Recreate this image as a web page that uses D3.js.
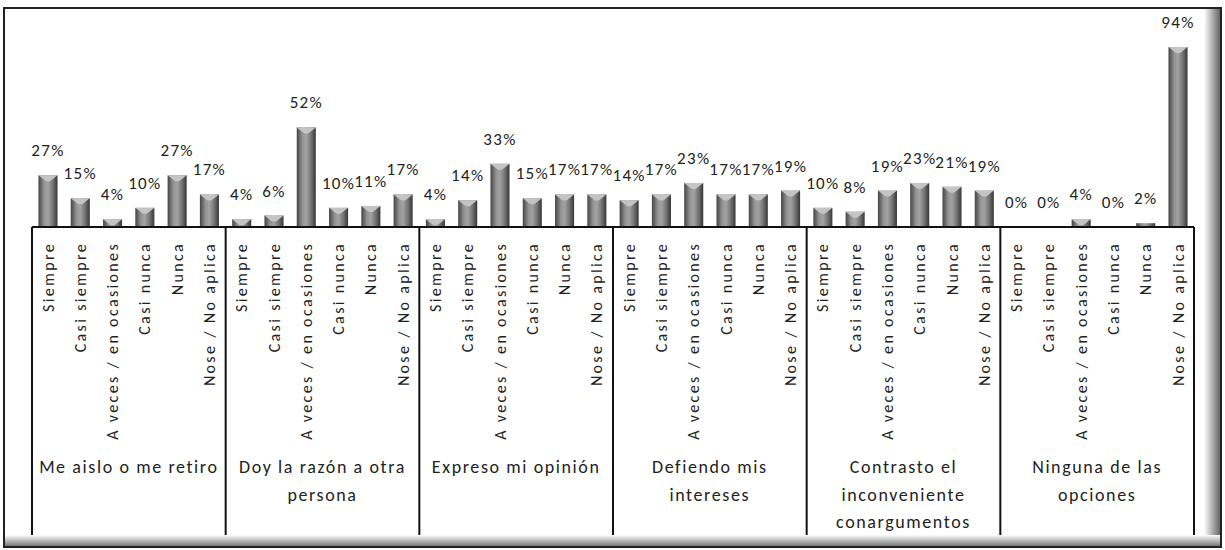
<!DOCTYPE html>
<html>
<head>
<meta charset="utf-8">
<script src="https://cdn.jsdelivr.net/npm/d3@7"></script>
<style>
  body { margin: 0; background: #fff; }
  svg text { font-family: Carlito, Lato, "Open Sans", sans-serif; fill: #222; }
</style>
</head>
<body>
<svg id="chart" width="1225" height="550"></svg>
<script>
// groups (behaviours) and answer options
const groups = [
  ["Me aislo o me retiro"],
  ["Doy la razón a otra", "persona"],
  ["Expreso mi opinión"],
  ["Defiendo mis", "intereses"],
  ["Contrasto el", "inconveniente", "conargumentos"],
  ["Ninguna de las", "opciones"]
];
const options = ["Siempre", "Casi siempre", "A veces / en ocasiones", "Casi nunca", "Nunca", "Nose / No aplica"];

// percentages per group, in the order of options
const meAislo   = [27, 15, 4, 10, 27, 17];
const doyRazon  = [4, 6, 52, 10, 11, 17];
const expreso   = [4, 14, 33, 15, 17, 17];
const defiendo  = [14, 17, 23, 17, 17, 19];
const contrasto = [10, 8, 19, 23, 21, 19];
const ninguna   = [0, 0, 4, 0, 2, 94];

const series = [meAislo, doyRazon, expreso, defiendo, contrasto, ninguna];

const data = [];
series.forEach((vals, g) => vals.forEach((v, i) => data.push({ key: g + "-" + i, g, option: options[i], value: v })));

const svg = d3.select("#chart");
const left = 32, right = 1194, base = 227, axisBottom = 535;

// frame with shadow on right / bottom
const defs = svg.append("defs");
const barGrad = defs.append("linearGradient").attr("id", "barGrad").attr("x1", 0).attr("x2", 1);
[[0, "#444"], [0.3, "#949494"], [0.5, "#a2a2a2"], [0.75, "#747474"], [1, "#363636"]]
  .forEach(([o, c]) => barGrad.append("stop").attr("offset", o).attr("stop-color", c));
const shR = defs.append("linearGradient").attr("id", "shR").attr("x1", 0).attr("x2", 1);
shR.append("stop").attr("offset", 0).attr("stop-color", "#fff");
shR.append("stop").attr("offset", 1).attr("stop-color", "#666");
const shB = defs.append("linearGradient").attr("id", "shB").attr("x1", 0).attr("x2", 0).attr("y1", 0).attr("y2", 1);
shB.append("stop").attr("offset", 0).attr("stop-color", "#fff");
shB.append("stop").attr("offset", 1).attr("stop-color", "#777");

svg.append("rect").attr("x", 1204).attr("y", 9).attr("width", 16).attr("height", 537).attr("fill", "url(#shR)");
svg.append("rect").attr("x", 4).attr("y", 535).attr("width", 1216).attr("height", 11).attr("fill", "url(#shB)");
svg.append("rect").attr("x", 4).attr("y", 8).attr("width", 1217).attr("height", 539)
  .attr("fill", "none").attr("stroke", "#222").attr("stroke-width", 2);

const x = d3.scaleBand().domain(data.map(d => d.key)).range([left, right]).paddingInner(0.41).paddingOuter(0.2);
const y = d3.scaleLinear().domain([0, 100]).range([base, 35.5]);
const gx = d3.scaleBand().domain(d3.range(groups.length)).range([left, right]);

// bars
const bars = svg.append("g").selectAll("g").data(data).join("g");
bars.append("rect")
  .attr("x", d => x(d.key))
  .attr("y", d => y(d.value))
  .attr("width", x.bandwidth())
  .attr("height", d => base - y(d.value))
  .attr("fill", "url(#barGrad)");
bars.filter(d => d.value > 2).append("path")
  .attr("d", d => {
    const x0 = x(d.key), w = x.bandwidth(), t = y(d.value);
    return `M${x0},${t}L${x0 + w},${t}L${x0 + w * 0.6},${t + 6}L${x0 + w * 0.4},${t + 6}Z`;
  })
  .attr("fill", "#c4c4c4");

// value labels
svg.append("g").selectAll("text").data(data).join("text")
  .attr("x", d => x(d.key) + x.bandwidth() / 2)
  .attr("y", d => y(d.value) - 19)
  .attr("text-anchor", "middle")
  .attr("font-size", "17px")
  .attr("letter-spacing", "1.3px")
  .text(d => d.value + "%");

// category axis: rotated option labels
const xAxis = d3.axisBottom(x).tickSize(0).tickFormat(k => data.find(d => d.key === k).option);
const ax = svg.append("g").attr("transform", `translate(0,${base})`).call(xAxis);
ax.select(".domain").remove();
ax.selectAll("text")
  .attr("transform", "rotate(-90)")
  .attr("x", -15).attr("y", 0).attr("dy", "0.35em")
  .attr("text-anchor", "end")
  .attr("font-family", "Carlito, Lato, sans-serif")
  .attr("font-size", "16px")
  .attr("letter-spacing", "2.35px")
  .attr("fill", "#222");

// axis box lines
svg.append("line").attr("x1", left).attr("x2", right).attr("y1", base).attr("y2", base)
  .attr("stroke", "#111").attr("stroke-width", 2);
svg.append("g").selectAll("line").data(d3.range(groups.length + 1)).join("line")
  .attr("x1", i => left + i * gx.step()).attr("x2", i => left + i * gx.step())
  .attr("y1", base).attr("y2", axisBottom)
  .attr("stroke", "#111").attr("stroke-width", 2);

// group labels
const gl = svg.append("g").selectAll("text").data(groups).join("text")
  .attr("x", (d, i) => gx(i) + gx.bandwidth() / 2)
  .attr("y", 473)
  .attr("text-anchor", "middle")
  .attr("font-size", "18px")
  .attr("letter-spacing", "1.6px");
gl.selectAll("tspan").data(d => d).join("tspan")
  .attr("x", function () { return d3.select(this.parentNode).attr("x"); })
  .attr("dy", (d, i) => i === 0 ? 0 : 27.5)
  .text(d => d);
</script>
</body>
</html>
